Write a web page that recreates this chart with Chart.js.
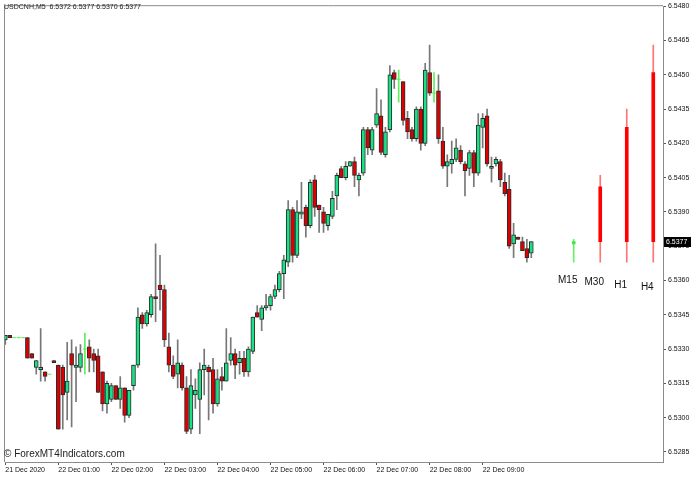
<!DOCTYPE html>
<html>
<head>
<meta charset="utf-8">
<script src="https://cdn.jsdelivr.net/npm/chart.js@4.4.1/dist/chart.umd.min.js"></script>
<style>
  html, body { margin: 0; padding: 0; background: #fff; }
</style>
</head>
<body>
<canvas id="chart" width="696" height="477"></canvas>
<script>
const symbol = 'USDCNH';
const timeframe = 'M5';

// M5 candles
const opens = [6.5334,6.5336,6.5335,6.5335,6.5335,6.5335,6.5328,6.5322,6.5321,6.5320,
  6.5319,6.5325,6.5323,6.5322,6.5311,6.5328,6.5322,6.5322,6.5330,6.5331,
  6.5328,6.5327,6.5320,6.5306,6.5308,6.5314,6.5308,6.5313,6.5301,6.5314,
  6.5323,6.5345,6.5341,6.5345,6.5353,6.5358,6.5356,6.5331,6.5323,6.5319,
  6.5323,6.5313,6.5295,6.5310,6.5308,6.5321,6.5322,6.5321,6.5306,6.5318,
  6.5316,6.5325,6.5328,6.5324,6.5326,6.5320,6.5329,6.5346,6.5343,6.5348,
  6.5349,6.5353,6.5356,6.5363,6.5368,6.5391,6.5371,6.5389,6.5392,6.5384,
  6.5404,6.5393,6.5390,6.5384,6.5388,6.5397,6.5409,6.5405,6.5410,6.5412,
  6.5404,6.5407,6.5426,6.5417,6.5428,6.5432,6.5415,6.5426,6.5451,6.5448,
  6.5447,6.5431,6.5426,6.5422,6.5435,6.5420,6.5451,6.5442,6.5443,6.5421,
  6.5410,6.5411,6.5413,6.5417,6.5411,6.5409,6.5416,6.5407,6.5427,6.5432,
  6.5409,6.5411,6.5412,6.5403,6.5400,6.5376,6.5379,6.5377,6.5374,6.5372];
const highs = [6.5336,6.5336,6.5335,6.5335,6.5335,6.5335,6.5328,6.5325,6.5339,6.5320,
  6.5319,6.5325,6.5323,6.5323,6.5333,6.5334,6.5331,6.5332,6.5337,6.5334,
  6.5330,6.5330,6.5320,6.5316,6.5315,6.5314,6.5318,6.5313,6.5312,6.5323,
  6.5348,6.5346,6.5347,6.5354,6.5376,6.5371,6.5358,6.5337,6.5327,6.5334,
  6.5324,6.5318,6.5321,6.5317,6.5324,6.5330,6.5323,6.5326,6.5321,6.5322,
  6.5339,6.5335,6.5330,6.5329,6.5329,6.5331,6.5344,6.5349,6.5349,6.5354,
  6.5354,6.5358,6.5364,6.5371,6.5395,6.5392,6.5395,6.5403,6.5393,6.5404,
  6.5406,6.5393,6.5392,6.5389,6.5399,6.5407,6.5410,6.5412,6.5412,6.5414,
  6.5407,6.5427,6.5427,6.5427,6.5444,6.5439,6.5427,6.5454,6.5452,6.5452,
  6.5447,6.5434,6.5427,6.5436,6.5436,6.5455,6.5463,6.5451,6.5450,6.5427,
  6.5415,6.5421,6.5422,6.5419,6.5412,6.5417,6.5417,6.5433,6.5433,6.5435,
  6.5414,6.5414,6.5413,6.5407,6.5406,6.5385,6.5379,6.5379,6.5378,6.5377];
const lows = [6.5332,6.5335,6.5335,6.5335,6.5335,6.5326,6.5326,6.5319,6.5316,6.5316,
  6.5319,6.5324,6.5295,6.5295,6.5299,6.5296,6.5307,6.5320,6.5319,6.5320,
  6.5320,6.5311,6.5303,6.5302,6.5307,6.5308,6.5304,6.5298,6.5300,6.5312,
  6.5322,6.5339,6.5340,6.5344,6.5342,6.5347,6.5331,6.5320,6.5317,6.5313,
  6.5312,6.5293,6.5293,6.5304,6.5293,6.5310,6.5299,6.5302,6.5305,6.5312,
  6.5316,6.5323,6.5317,6.5319,6.5318,6.5318,6.5328,6.5344,6.5338,6.5347,
  6.5347,6.5352,6.5355,6.5352,6.5366,6.5368,6.5370,6.5387,6.5379,6.5383,
  6.5388,6.5381,6.5381,6.5382,6.5387,6.5391,6.5405,6.5404,6.5410,6.5401,
  6.5397,6.5406,6.5415,6.5415,6.5427,6.5415,6.5414,6.5425,6.5444,6.5438,
  6.5428,6.5422,6.5421,6.5421,6.5417,6.5419,6.5441,6.5438,6.5420,6.5409,
  6.5401,6.5407,6.5412,6.5411,6.5397,6.5406,6.5401,6.5406,6.5418,6.5410,
  6.5403,6.5410,6.5401,6.5397,6.5374,6.5370,6.5378,6.5373,6.5368,6.5370];
const closes = [6.5336,6.5335,6.5335,6.5335,6.5335,6.5326,6.5326,6.5325,6.5322,6.5318,
  6.5319,6.5324,6.5295,6.5310,6.5316,6.5323,6.5323,6.5328,6.5330,6.5326,
  6.5325,6.5311,6.5306,6.5315,6.5314,6.5308,6.5313,6.5301,6.5312,6.5323,
  6.5344,6.5341,6.5346,6.5353,6.5352,6.5356,6.5334,6.5323,6.5318,6.5324,
  6.5313,6.5294,6.5314,6.5312,6.5321,6.5323,6.5320,6.5306,6.5317,6.5316,
  6.5324,6.5328,6.5323,6.5326,6.5320,6.5330,6.5344,6.5344,6.5348,6.5349,
  6.5353,6.5356,6.5363,6.5369,6.5391,6.5371,6.5390,6.5390,6.5384,6.5403,
  6.5392,6.5391,6.5385,6.5389,6.5396,6.5406,6.5405,6.5410,6.5412,6.5406,
  6.5406,6.5426,6.5418,6.5426,6.5433,6.5416,6.5425,6.5450,6.5448,6.5448,
  6.5430,6.5425,6.5422,6.5435,6.5420,6.5452,6.5442,6.5442,6.5422,6.5410,
  6.5412,6.5413,6.5418,6.5412,6.5408,6.5416,6.5407,6.5428,6.5431,6.5411,
  6.5410,6.5413,6.5404,6.5398,6.5375,6.5380,6.5378,6.5373,6.5370,6.5377];

// higher timeframe candles drawn to the right
const mtfLabels = ['M15', 'M30', 'H1', 'H4'];
const mtfPos = [128.6, 134.6, 140.6, 146.6];
const mtfOpen = [6.5376, 6.5401, 6.5427, 6.5451];
const mtfHigh = [6.5378, 6.5406, 6.5435, 6.5463];
const mtfLow = [6.5368, 6.5368, 6.5368, 6.5368];
const mtfClose = [6.5377, 6.5377, 6.5377, 6.5377];

// axes
const xTickPos = [0, 12, 24, 36, 48, 60, 72, 84, 96, 108];
const xTickLabels = ['21 Dec 2020', '22 Dec 01:00', '22 Dec 02:00', '22 Dec 03:00', '22 Dec 04:00',
  '22 Dec 05:00', '22 Dec 06:00', '22 Dec 07:00', '22 Dec 08:00', '22 Dec 09:00'];
const yTicks = [6.5285, 6.5300, 6.5315, 6.5330, 6.5345, 6.5360, 6.5375, 6.5390,
  6.5405, 6.5420, 6.5435, 6.5450, 6.5465, 6.5480];

const upColor = '#19e184';
const downColor = '#dc0000';
const wickColor = '#777777';
const dojiColor = '#5cf05c';

Chart.defaults.font.family = "'Liberation Sans', Arial, sans-serif";
Chart.defaults.font.size = 7;
Chart.defaults.color = '#111';

const idx = opens.map((_, i) => i);
const isDoji = i => opens[i] === closes[i];
const bodyIdx = idx.filter(i => !isDoji(i));
const dojiIdx = idx.filter(isDoji);
const last = opens.length - 1;

const overlay = {
  id: 'overlay',
  afterDraw(chart) {
    const { ctx, chartArea: a, scales: { x, y } } = chart;
    ctx.save();
    // window frame (left / top)
    ctx.strokeStyle = '#8c8c8c';
    ctx.lineWidth = 1;
    ctx.beginPath();
    ctx.moveTo(a.left - 0.5, a.bottom);
    ctx.lineTo(a.left - 0.5, a.top - 0.5);
    ctx.lineTo(a.right, a.top - 0.5);
    ctx.stroke();

    // header with last bar OHLC
    ctx.fillStyle = '#222';
    ctx.font = "7px 'Liberation Sans', Arial";
    ctx.textBaseline = 'middle';
    ctx.textAlign = 'left';
    const f = v => v.toFixed(4);
    ctx.fillText(`${symbol},${timeframe}  ${f(opens[last])} ${f(highs[last])} ${f(lows[last])} ${f(closes[last])}`, 4, 7);

    // watermark
    ctx.font = "10px 'Liberation Sans', Arial";
    ctx.fillStyle = '#222';
    ctx.fillText('\u00a9 ForexMT4Indicators.com', 4, 454);

    // timeframe labels under the big candles
    ctx.font = "10px 'Liberation Sans', Arial";
    ctx.textAlign = 'center';
    ctx.fillStyle = '#111';
    mtfLabels.forEach((lab, k) => {
      const px = x.getPixelForValue(mtfPos[k]) - 6;
      const py = y.getPixelForValue(mtfLow[k]) + 18 + k * 2.3;
      ctx.fillText(lab, px, py);
    });

    // current price box
    const cy = Math.round(y.getPixelForValue(closes[last]));
    ctx.fillStyle = '#000';
    ctx.fillRect(a.right + 1, cy - 5, 27, 10);
    ctx.fillStyle = '#fff';
    ctx.font = "7px 'Liberation Sans', Arial";
    ctx.textAlign = 'left';
    ctx.fillText(closes[last].toFixed(4), a.right + 3, cy);
    ctx.restore();
  }
};

new Chart(document.getElementById('chart'), {
  type: 'bar',
  data: {
    datasets: [
      {
        type: 'line',
        label: 'doji',
        data: dojiIdx.map(i => ({ x: i, y: opens[i] })),
        showLine: false,
        pointStyle: 'line',
        pointRadius: 2,
        borderColor: dojiColor,
        borderWidth: 1,
        order: 0
      },
      {
        label: 'body',
        data: bodyIdx.map(i => ({ x: i, y: [opens[i], closes[i]] })),
        backgroundColor: bodyIdx.map(i => closes[i] > opens[i] ? upColor : downColor),
        borderColor: '#2a2a2a',
        borderWidth: 1,
        borderSkipped: false,
        barThickness: 4,
        grouped: false,
        order: 1
      },
      {
        label: 'wick',
        data: idx.map(i => ({ x: i, y: [lows[i], highs[i]] })),
        backgroundColor: idx.map(i => isDoji(i) ? dojiColor : wickColor),
        barThickness: 1,
        grouped: false,
        order: 3
      },
      {
        label: 'mtf body',
        data: mtfPos.map((p, k) => ({ x: p, y: [mtfOpen[k], mtfClose[k]] })),
        backgroundColor: mtfPos.map((p, k) => mtfClose[k] > mtfOpen[k] ? '#3ee63e' : '#ff0000'),
        barThickness: 3,
        grouped: false,
        order: 1
      },
      {
        label: 'mtf wick',
        data: mtfPos.map((p, k) => ({ x: p, y: [mtfLow[k], mtfHigh[k]] })),
        backgroundColor: mtfPos.map((p, k) => mtfClose[k] > mtfOpen[k] ? '#66f266' : '#ff7474'),
        barThickness: 1,
        grouped: false,
        order: 3
      }
    ]
  },
  options: {
    responsive: false,
    animation: false,
    layout: { padding: { left: 2, top: 2, right: 0, bottom: 0 } },
    plugins: {
      legend: { display: false },
      tooltip: { enabled: false }
    },
    scales: {
      x: {
        type: 'linear',
        offset: false,
        min: -0.07,
        max: 148.8,
        afterBuildTicks: s => { s.ticks = xTickPos.map(v => ({ value: v })); },
        afterFit: s => { s.height = 15; },
        ticks: {
          autoSkip: false,
          maxRotation: 0,
          align: 'start',
          padding: 1,
          color: '#111',
          callback: v => xTickLabels[xTickPos.indexOf(v)]
        },
        grid: { offset: false, drawOnChartArea: false, tickLength: 3, color: '#555' },
        border: { color: '#8c8c8c' }
      },
      y: {
        position: 'right',
        min: 6.52806,
        max: 6.54800,
        afterBuildTicks: s => { s.ticks = yTicks.map(v => ({ value: v })); },
        afterFit: s => { s.width = 33; },
        ticks: {
          padding: 2,
          color: '#111',
          callback: v => v.toFixed(4)
        },
        grid: { drawOnChartArea: false, tickLength: 3, color: '#555' },
        border: { color: '#8c8c8c' }
      }
    }
  },
  plugins: [overlay]
});
</script>
</body>
</html>
